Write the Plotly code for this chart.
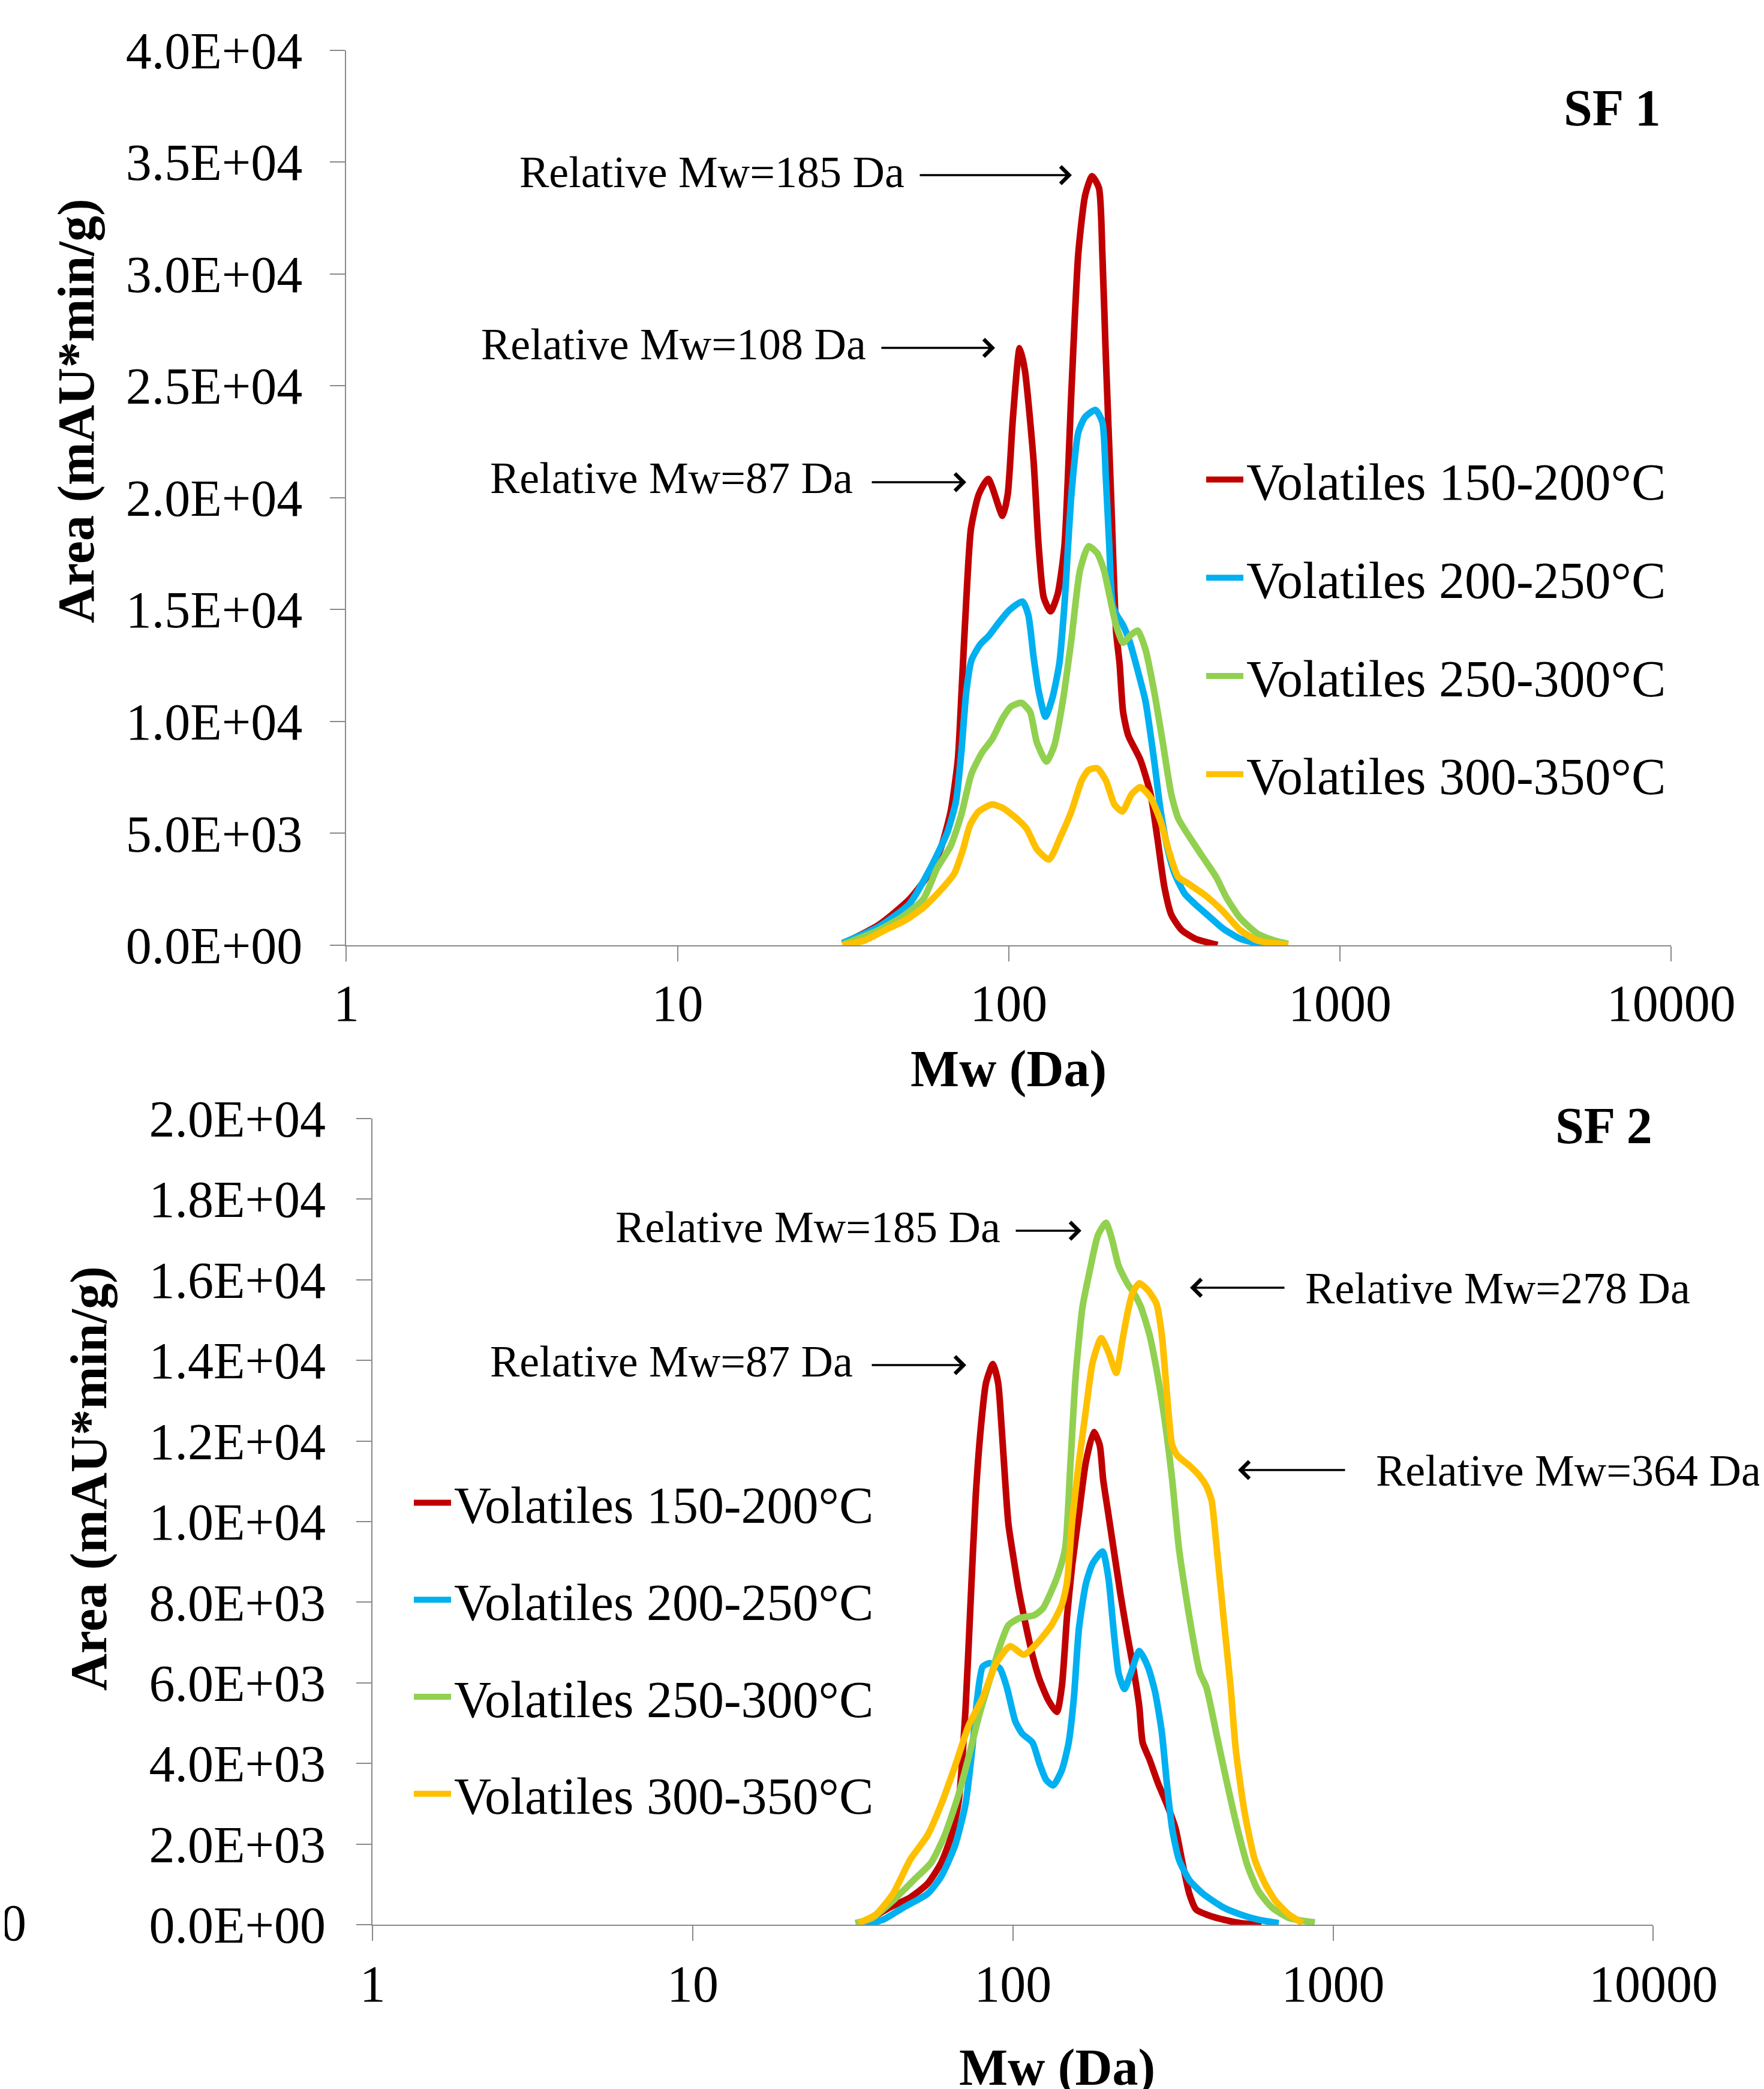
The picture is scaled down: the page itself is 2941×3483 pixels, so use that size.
import plotly.graph_objects as go

# page geometry (the html body adds an 8 px margin, compensated below)
PAGE_W, PAGE_H = 2941, 3483
OFF = 8
W, H = PAGE_W - OFF, PAGE_H - OFF

# ---------------- data ----------------
series_names = ["Volatiles 150-200°C", "Volatiles 200-250°C",
                "Volatiles 250-300°C", "Volatiles 300-350°C"]
series_colors = ["#C00000", "#00B0F0", "#92D050", "#FFC000"]

# SF 1
sf1_150_mw = [31.5, 40.5, 50.2, 56.6, 62.2, 66.8, 70.2, 72.3, 74.5, 76.9, 81.2, 86.7, 95.8, 99.3, 102.9,
              107.9, 111.9, 118.8, 123.1, 127.6, 133.8, 140.5, 147.3, 154.6, 162.2, 170.2, 178.5, 187.2,
              191.7, 196.4, 203.6, 211.0, 216.1, 221.4, 229.6, 249.6, 268.1, 281.3, 295.1, 309.5, 332.6,
              365.9, 427.3]
sf1_150_v = [60, 907, 2061, 3060, 4290, 5983, 8290, 11800, 15530, 18610, 20150, 20840, 19190, 20150, 23530,
             26680, 25680, 21680, 17840, 15530, 14920, 15690, 17840, 24760, 30910, 33530, 34370, 33840,
             30910, 26300, 20150, 14000, 12600, 10440, 9370, 8290, 6750, 4750, 2600, 1370, 680,
             290, 15]

sf1_200_mw = [31.5, 40.5, 50.2, 58.0, 65.3, 69.3, 71.9, 74.5, 77.2, 82.0, 87.1, 93.6, 100.5, 110.1, 114.6,
              118.8, 123.1, 129.1, 135.5, 142.2, 147.3, 154.6, 162.2, 170.0, 182.8, 191.7, 196.4, 201.2,
              206.0, 213.0, 221.4, 232.3, 246.6, 258.8, 274.6, 287.7, 302.0, 316.7, 340.4, 365.9, 402.5,
              443.2, 499.7, 577.2, 620.0]
sf1_200_v = [100, 830, 1860, 3445, 5060, 6440, 8600, 11370, 12750, 13440, 13830, 14440, 14980, 15360, 14750,
             12900, 11370, 10210, 11060, 12600, 15210, 20150, 22920, 23600, 23920, 23380, 20920, 17840,
             15200, 14700, 14300, 13520, 12130, 10900, 8290, 5980, 4290, 3210, 2290, 1830, 1290,
             750, 290, 60, 0]

sf1_250_mw = [31.5, 40.5, 47.9, 55.2, 60.8, 66.8, 71.9, 77.2, 83.0, 89.1, 95.8, 101.7, 109.2, 115.9, 121.6,
              130.0, 137.1, 145.6, 154.6, 164.1, 174.2, 185.0, 194.0, 201.2, 211.0, 221.4, 232.3, 245.4,
              258.8, 274.6, 291.8, 309.5, 324.6, 348.8, 383.9, 422.5, 454.0, 499.7, 563.3, 634.0, 698.0]
sf1_250_v = [30, 680, 1290, 2060, 3445, 4440, 5830, 7670, 8600, 9210, 10140, 10670, 10830, 10440, 9060,
             8210, 8900, 10900, 13670, 16750, 17830, 17520, 16750, 15670, 14290, 13520, 13830, 14060,
             13210, 11370, 9060, 6750, 5680, 4910, 3980, 3060, 2140, 1215, 520, 215, 60]

sf1_300_mw = [31.5, 36.7, 42.4, 49.0, 55.2, 62.2, 68.5, 72.8, 76.4, 81.2, 89.1, 95.8, 105.4, 113.2, 121.6,
              132.3, 143.9, 154.6, 166.1, 174.2, 185.0, 196.4, 208.5, 220.3, 235.0, 249.6, 268.1, 287.7,
              305.5, 324.6, 348.8, 393.5, 443.2, 499.7, 563.3, 698.0]
sf1_300_v = [0, 215, 680, 1140, 1680, 2450, 3210, 4290, 5370, 5980, 6290, 6140, 5680, 5210, 4290,
             3830, 4910, 5980, 7370, 7830, 7910, 7370, 6290, 5980, 6750, 7060, 6600, 5520,
             4140, 3060, 2750, 2210, 1520, 680, 215, 15]

# SF 2
sf2_150_mw = [33.8, 41.2, 47.8, 54.1, 59.7, 64.3, 67.7, 71.1, 73.8, 76.5, 79.4, 82.4, 86.6, 89.9, 92.2,
              94.5, 96.8, 100.5, 104.2, 109.5, 115.1, 120.9, 128.8, 137.1, 142.2, 147.5, 153.1, 160.7,
              168.9, 178.9, 186.6, 191.3, 198.6, 206.1, 216.4, 227.5, 238.9, 248.1, 254.2, 267.1, 284.3,
              302.6, 322.0, 338.4, 355.7, 373.3, 402.0, 454.7, 514.5, 597.6]
sf2_150_v = [20, 430, 680, 1020, 1540, 2220, 3070, 5340, 8060, 10620, 12330, 13440, 13910, 13440, 12330,
             11050, 9940, 9080, 8310, 7460, 6690, 6100, 5580, 5280, 5920, 7630, 8910, 10190,
             11470, 12220, 11900, 11050, 10190, 9340, 8230, 7200, 6270, 5410, 4520, 4100, 3500,
             2990, 2390, 1540, 770, 380, 256, 128, 43, 0]

sf2_200_mw = [34.2, 39.3, 45.5, 54.1, 59.7, 65.9, 71.1, 74.6, 77.4, 80.4, 84.5, 91.0, 95.7, 101.8, 107.0,
              115.1, 120.9, 127.1, 133.6, 142.2, 149.3, 155.0, 160.7, 168.9, 177.4, 190.5, 198.6, 206.1,
              213.9, 223.0, 233.2, 248.1, 264.0, 277.5, 291.7, 302.6, 314.2, 329.9, 355.7, 392.5, 454.7,
              514.5, 583.4, 676.6]
sf2_200_v = [0, 128, 430, 770, 1200, 1960, 2990, 4350, 5630, 6400, 6490, 6360, 5890, 5040, 4740,
             4520, 4010, 3590, 3460, 3840, 4520, 5630, 7340, 8450, 8960, 9260, 8620, 7340,
             6230, 5850, 6230, 6790, 6400, 5800, 4780, 3500, 2390, 1620, 1110, 770, 430,
             256, 128, 43]

sf2_250_mw = [32.2, 36.4, 42.2, 49.0, 55.5, 61.2, 67.7, 72.8, 78.5, 84.5, 91.0, 96.8, 104.3, 116.6, 124.1,
              131.9, 138.6, 145.6, 151.3, 157.0, 164.9, 173.2, 184.4, 195.2, 203.6, 213.9, 227.5, 238.9,
              251.1, 267.1, 280.8, 295.0, 314.2, 329.9, 355.7, 383.0, 402.0, 433.1, 466.8, 502.6, 541.3,
              583.4, 644.1, 728.0, 877.0]
sf2_250_v = [43, 170, 600, 1110, 1540, 2220, 3240, 4180, 5210, 6060, 6910, 7430, 7600, 7680, 7850,
             8280, 8710, 9340, 11470, 13610, 15320, 16170, 17110, 17410, 17020, 16340, 15910, 15660,
             15320, 14630, 13780, 12750, 11050, 9340, 7630, 6270, 5890, 4700, 3500, 2390, 1450,
             850, 430, 170, 60]

sf2_300_mw = [33.0, 37.3, 42.2, 47.8, 54.1, 59.7, 65.9, 72.8, 80.4, 88.7, 98.0, 108.2, 119.5, 131.9, 142.2,
              147.5, 153.1, 160.7, 168.9, 177.4, 188.6, 198.6, 210.3, 219.3, 227.5, 236.1, 248.1, 264.0,
              280.8, 291.7, 302.6, 314.2, 326.1, 355.7, 383.0, 402.0, 417.1, 433.1, 454.7, 478.2, 496.6,
              528.3, 569.1, 612.8, 659.7, 728.0, 803.3]
sf2_300_v = [43, 256, 770, 1620, 2220, 2990, 3930, 4950, 5630, 6490, 6910, 6700, 7000, 7430, 7940,
             8490, 10020, 11470, 12750, 13950, 14550, 14210, 13690, 14460, 15140, 15660, 15910, 15740,
             15400, 14630, 13180, 11900, 11640, 11390, 11130, 10880, 10530, 9340, 7630, 5920, 4350,
             2820, 1620, 1020, 600, 256, 43]

x_tickvals = [1, 10, 100, 1000, 10000]
x_ticktext = ["1", "10", "100", "1000", "10000"]
sf1_y_tickvals = [0, 5000, 10000, 15000, 20000, 25000, 30000, 35000, 40000]
sf1_y_ticktext = ["0.0E+00", "5.0E+03", "1.0E+04", "1.5E+04", "2.0E+04",
                  "2.5E+04", "3.0E+04", "3.5E+04", "4.0E+04"]
sf2_y_tickvals = [0, 2000, 4000, 6000, 8000, 10000, 12000, 14000, 16000, 18000, 20000]
sf2_y_ticktext = ["0.0E+00", "2.0E+03", "4.0E+03", "6.0E+03", "8.0E+03", "1.0E+04",
                  "1.2E+04", "1.4E+04", "1.6E+04", "1.8E+04", "2.0E+04"]

# (text, left x px, centre y px) in page pixels
sf1_labels = [("Relative Mw=185 Da", 864, 287), ("Relative Mw=108 Da", 800, 574),
              ("Relative Mw=87 Da", 815, 797)]
sf2_labels = [("Relative Mw=185 Da", 1024, 2046), ("Relative Mw=87 Da", 815, 2270),
              ("Relative Mw=278 Da", 2174, 2148), ("Relative Mw=364 Da", 2292, 2452)]
# arrows: (tail x, head x, y) in page pixels
arrows = [(1532, 1787, 292), (1468, 1659, 580), (1452, 1611, 804),
          (1692, 1803, 2052), (1452, 1611, 2276), (2143, 1984, 2147), (2244, 2064, 2451)]

FONT = "Liberation Serif, Times New Roman, serif"
FS = 86


def px(x):
    return (x - OFF) / W


def py(y):
    return 1 - (y - OFF) / H


fig = go.Figure()

sf1 = [(sf1_150_mw, sf1_150_v), (sf1_200_mw, sf1_200_v), (sf1_250_mw, sf1_250_v), (sf1_300_mw, sf1_300_v)]
sf2 = [(sf2_150_mw, sf2_150_v), (sf2_200_mw, sf2_200_v), (sf2_250_mw, sf2_250_v), (sf2_300_mw, sf2_300_v)]

for i, (xs, ys) in enumerate(sf1):
    fig.add_trace(go.Scatter(x=xs, y=ys, mode="lines", name=series_names[i],
                             line=dict(color=series_colors[i], width=11, shape="spline", smoothing=0.6),
                             xaxis="x", yaxis="y", legend="legend", legendgroup="a%d" % i))
for i, (xs, ys) in enumerate(sf2):
    fig.add_trace(go.Scatter(x=xs, y=ys, mode="lines", name=series_names[i],
                             line=dict(color=series_colors[i], width=11, shape="spline", smoothing=0.6),
                             xaxis="x2", yaxis="y2", legend="legend2", legendgroup="b%d" % i))

axis_common = dict(showline=True, linecolor="#898989", linewidth=2, ticks="outside", ticklen=25,
                   tickwidth=2, tickcolor="#898989", showgrid=False, zeroline=False, automargin=False,
                   tickfont=dict(family=FONT, size=FS, color="black"))

fig.update_layout(
    template="none",
    width=W, height=H, autosize=False,
    margin=dict(l=0, r=0, t=0, b=0, pad=0),
    paper_bgcolor="white", plot_bgcolor="white",
    xaxis=dict(type="log", range=[0, 4], domain=[px(577.4), px(2786.2)], anchor="y",
               tickvals=x_tickvals, ticktext=x_ticktext, ticklabelstandoff=-4, **axis_common),
    yaxis=dict(range=[0, 40000], domain=[py(1576), py(83.6)], anchor="x",
               tickvals=sf1_y_tickvals, ticktext=sf1_y_ticktext, ticklabelstandoff=29, **axis_common),
    xaxis2=dict(type="log", range=[0, 4], domain=[px(621.2), px(2756.4)], anchor="y2",
                tickvals=x_tickvals, ticktext=x_ticktext, ticklabelstandoff=-3, **axis_common),
    yaxis2=dict(range=[0, 20000], domain=[py(3209.3), py(1864.7)], anchor="x2",
                tickvals=sf2_y_tickvals, ticktext=sf2_y_ticktext, ticklabelstandoff=34, **axis_common),
    legend=dict(x=px(2006), y=py(737), xanchor="left", yanchor="top",
                font=dict(family=FONT, size=FS, color="black"), bgcolor="rgba(0,0,0,0)",
                tracegroupgap=49, traceorder="grouped", itemwidth=62, borderwidth=0),
    legend2=dict(x=px(685), y=py(2443), xanchor="left", yanchor="top",
                 font=dict(family=FONT, size=FS, color="black"), bgcolor="rgba(0,0,0,0)",
                 tracegroupgap=47, traceorder="grouped", itemwidth=62, borderwidth=0),
)

annotations = []
for text, lx, cy in sf1_labels + sf2_labels:
    annotations.append(dict(text=text, x=px(lx), y=py(cy), xref="paper", yref="paper",
                            xanchor="left", yanchor="middle", showarrow=False,
                            font=dict(family=FONT, size=74, color="black")))
for tx, hx, yy in arrows:
    annotations.append(dict(text="", x=px(hx), y=py(yy), xref="paper", yref="paper",
                            ax=tx - hx, ay=0, showarrow=True, arrowhead=4, arrowsize=1.6,
                            arrowwidth=3.5, arrowcolor="black"))
# titles
for text, cx, cy, ang in [("<b>Mw (Da)</b>", 1681, 1782, 0), ("<b>Mw (Da)</b>", 1762, 3447, 0),
                          ("<b>Area (mAU*min/g)</b>", 127, 685, -90),
                          ("<b>Area (mAU*min/g)</b>", 148, 2465, -90),
                          ("<b>SF 1</b>", 2688, 180, 0), ("<b>SF 2</b>", 2674, 1877, 0),
                          ("0", 22, 3206, 0)]:
    annotations.append(dict(text=text, x=px(cx), y=py(cy), xref="paper", yref="paper",
                            xanchor="center", yanchor="middle", showarrow=False, textangle=ang,
                            font=dict(family=FONT, size=FS, color="black")))
fig.update_layout(annotations=annotations)

fig.write_html("out.html")
